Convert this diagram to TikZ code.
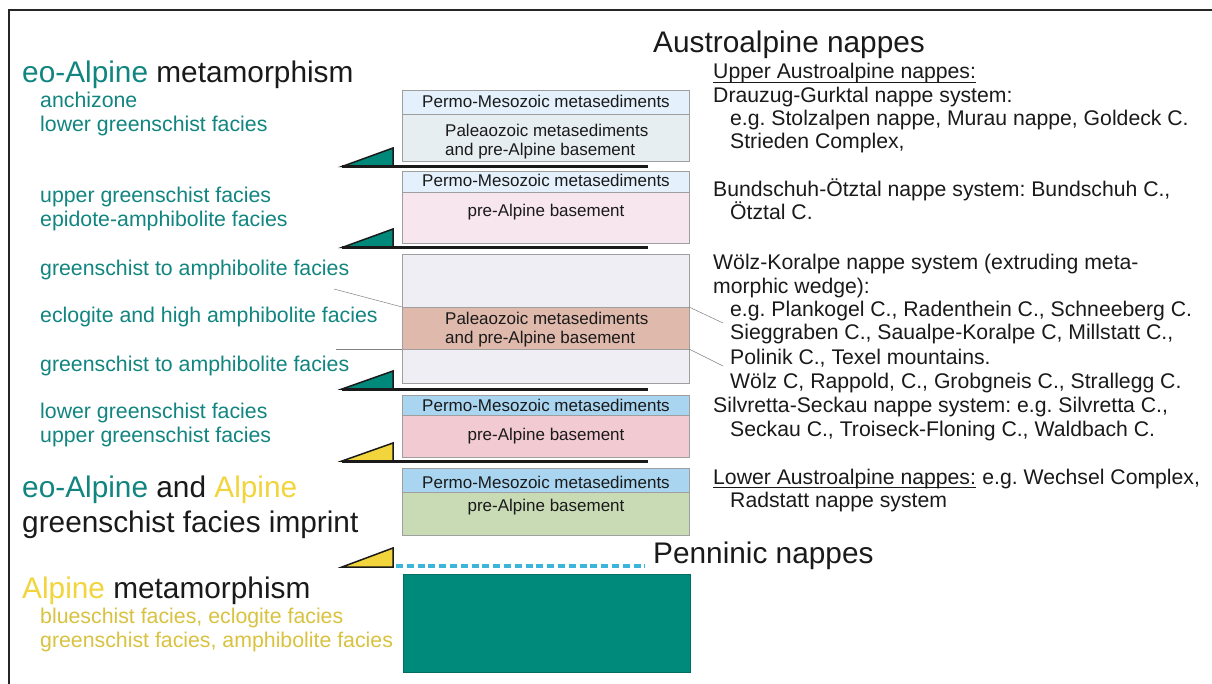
\documentclass[tikz,border=0pt]{standalone}
\usepackage{fontspec}
\setmainfont{Liberation Sans}
\frenchspacing
\usetikzlibrary{positioning}

\definecolor{eoteal}{HTML}{11857F}
\definecolor{wedgeteal}{HTML}{00897A}
\definecolor{alpyellow}{HTML}{F2D53C}
\definecolor{alptext}{HTML}{D9C240}
\definecolor{permolight}{HTML}{E4F0FB}
\definecolor{permoblue}{HTML}{A9D5F0}
\definecolor{paleogray}{HTML}{E7EEF1}
\definecolor{basepink}{HTML}{F8E6EF}
\definecolor{wedgelilac}{HTML}{EFEEF5}
\definecolor{paleored}{HTML}{DFB9AC}
\definecolor{baserose}{HTML}{F2CAD1}
\definecolor{basegreen}{HTML}{C9DBB5}
\definecolor{pennteal}{HTML}{008A7C}
\definecolor{dashcyan}{HTML}{3DB4DA}
\definecolor{inkblack}{HTML}{1A1A1A}

\tikzset{
  band/.style={draw=gray!75, line width=0.8pt, minimum width=287pt, anchor=north west, inner sep=0pt, outer sep=0pt},
  boxtext/.style={font=\fontsize{17}{19}\selectfont, inner sep=0pt, text=inkblack},
  faciestext/.style={font=\fontsize{21.3}{24}\selectfont, text=eoteal, anchor=base west, inner sep=0pt},
  bigtext/.style={font=\fontsize{29.8}{34}\selectfont, text=inkblack, anchor=base west, inner sep=0pt},
  nappetext/.style={font=\fontsize{21.2}{23.5}\selectfont, text=inkblack, anchor=base west, inner sep=0pt},
  thrust/.style={line width=3pt, draw=inkblack},
  wedge/.style={draw=inkblack, line width=1.5pt, line join=miter},
  leader/.style={draw=gray, line width=0.5pt},
  underbar/.style={draw=inkblack, line width=0.9pt}
}

\begin{document}
\begin{tikzpicture}[x=1pt, y=-1pt]
    \useasboundingbox (0,0) rectangle (1212,684);
    \clip (0,0) rectangle (1212,684);
    \fill[white] (0,0) rectangle (1212,684);
    \draw[gray!30!black, line width=1.2pt] (9,700) -- (9,10) -- (1230,10);

    % nappe stack
    \node[band, fill=permolight, minimum height=24pt] (permoA) at (402,90) {};
    \node[band, fill=paleogray, minimum height=47pt] (paleoA) at (402,114) {};
    \node[band, fill=permolight, minimum height=21pt] (permoB) at (402,171) {};
    \node[band, fill=basepink, minimum height=51pt] (baseB) at (402,192) {};
    \node[band, fill=wedgelilac, minimum height=129pt] (wedgeC) at (402,254) {};
    \node[band, fill=paleored, minimum height=42pt] (bandC) at (402,307) {};
    \node[band, fill=permoblue, minimum height=20pt] (permoD) at (402,395) {};
    \node[band, fill=baserose, minimum height=42pt] (baseD) at (402,415) {};
    \node[band, fill=permoblue, minimum height=24pt] (permoE) at (402,468) {};
    \node[band, fill=basegreen, minimum height=43pt] (baseE) at (402,492) {};
    \node[band, fill=pennteal, draw=pennteal!80!black, minimum height=98pt] (pennin) at (403,574) {};

    \node[boxtext, anchor=base] (tPermoA) at (546,108) {Permo-Mesozoic metasediments};
    \node[boxtext, anchor=base west] (tPaleoA1) at (445,137) {Paleaozoic metasediments};
    \node[boxtext, anchor=base west] (tPaleoA2) at (445,156) {and pre-Alpine basement};
    \node[boxtext, anchor=base] (tPermoB) at (546,187) {Permo-Mesozoic metasediments};
    \node[boxtext, anchor=base] (tBaseB) at (546,217) {pre-Alpine basement};
    \node[boxtext, anchor=base west] (tPaleoC1) at (445,325) {Paleaozoic metasediments};
    \node[boxtext, anchor=base west] (tPaleoC2) at (445,344) {and pre-Alpine basement};
    \node[boxtext, anchor=base] (tPermoD) at (546,411) {Permo-Mesozoic metasediments};
    \node[boxtext, anchor=base] (tBaseD) at (546,440) {pre-Alpine basement};
    \node[boxtext, anchor=base] (tPermoE) at (546,488) {Permo-Mesozoic metasediments};
    \node[boxtext, anchor=base] (tBaseE) at (546,511) {pre-Alpine basement};

    % thrusts
    \foreach \y/\t/\c in {166.5/148/wedgeteal, 247.5/229/wedgeteal, 389/371/wedgeteal, 461/443/alpyellow}{
        \filldraw[wedge, fill=\c] (342,\y) -- (393,\y) -- (393,\t) -- cycle;
        \draw[thrust] (342,\y) -- (648,\y);
    }
    \filldraw[wedge, fill=alpyellow] (342,567) -- (393,567) -- (393,548) -- cycle;
    \coordinate (dashL) at (396,566);
    \coordinate (dashR) at (645,566);
    \draw[dashcyan, line width=3.5pt, dash pattern=on 7pt off 3.8pt] (dashL) -- (dashR);

    % leaders
    \coordinate (lUp) at (334,289);
    \coordinate (lLow) at (336,349);
    \coordinate (rUp) at (723,323);
    \coordinate (rLow) at (723,366);
    \draw[leader] (lUp) -- (bandC.north west);
    \draw[leader] (lLow) -- (bandC.south west);
    \draw[leader] (bandC.north east) -- (rUp);
    \draw[leader] (bandC.south east) -- (rLow);

    % metamorphism
    \node[bigtext] (eoTitle) at (22,83) {\textcolor{eoteal}{eo-Alpine} metamorphism};
    \node[faciestext] (anchi) at (40,108) {anchizone};
    \node[faciestext] (lowGsA) at (40,132) {lower greenschist facies};
    \node[faciestext] (upGsA) at (40,203) {upper greenschist facies};
    \node[faciestext] (epAmph) at (40,227) {epidote-amphibolite facies};
    \node[faciestext] (gsAmA) at (40,276) {greenschist to amphibolite facies};
    \node[faciestext] (eclog) at (40,323) {eclogite and high amphibolite facies};
    \node[faciestext] (gsAmB) at (40,371) {greenschist to amphibolite facies};
    \node[faciestext] (lowGsB) at (40,418) {lower greenschist facies};
    \node[faciestext] (upGsB) at (40,442) {upper greenschist facies};
    \node[bigtext] (eoAlp) at (22,497) {\textcolor{eoteal}{eo-Alpine} and \textcolor{alpyellow}{Alpine}};
    \node[bigtext] (imprint) at (22,532) {greenschist facies imprint};
    \node[bigtext] (alpTitle) at (22,598) {\textcolor{alpyellow}{Alpine} metamorphism};
    \node[faciestext, text=alptext] (blueEc) at (40,623) {blueschist facies, eclogite facies};
    \node[faciestext, text=alptext] (gsAmC) at (40,647) {greenschist facies, amphibolite facies};

    % nappes
    \node[bigtext] (austro) at (653,53) {Austroalpine nappes};
    \node[nappetext] (upperA) at (713,79) {Upper Austroalpine nappes:};
    \draw[underbar] ([yshift=-3pt]upperA.base west) -- ([yshift=-3pt]upperA.base east);
    \node[nappetext] (drau) at (713,103) {Drauzug-Gurktal nappe system:};
    \node[nappetext] (drauA) at (730,126) {e.g. Stolzalpen nappe, Murau nappe, Goldeck C.};
    \node[nappetext] (drauB) at (730,149) {Strieden Complex,};
    \node[nappetext] (bund) at (713,197) {Bundschuh-Ötztal nappe system: Bundschuh C.,};
    \node[nappetext] (bundA) at (730,220) {Ötztal C.};
    \node[nappetext] (woelz) at (713,270) {Wölz-Koralpe nappe system (extruding meta-};
    \node[nappetext] (woelzA) at (713,294) {morphic wedge):};
    \node[nappetext] (woelzB) at (730,317) {e.g. Plankogel C., Radenthein C., Schneeberg C.};
    \node[nappetext] (woelzC) at (730,340) {Sieggraben C., Saualpe-Koralpe C, Millstatt C.,};
    \node[nappetext] (woelzD) at (730,364) {Polinik C., Texel mountains.};
    \node[nappetext] (woelzE) at (730,388) {Wölz C, Rappold, C., Grobgneis C., Strallegg C.};
    \node[nappetext] (silv) at (713,412) {Silvretta-Seckau nappe system: e.g. Silvretta C.,};
    \node[nappetext] (silvA) at (730,436) {Seckau C., Troiseck-Floning C., Waldbach C.};
    \node[nappetext] (lowerA) at (713,484) {Lower Austroalpine nappes:};
    \node[nappetext, right=6pt of lowerA.base east, anchor=base west] (lowerAx) {e.g. Wechsel Complex,};
    \draw[underbar] ([yshift=-3pt]lowerA.base west) -- ([yshift=-3pt]lowerA.base east);
    \node[nappetext] (lowerB) at (730,507) {Radstatt nappe system};
    \node[bigtext] (penn) at (653,563) {Penninic nappes};
\end{tikzpicture}
\end{document}
